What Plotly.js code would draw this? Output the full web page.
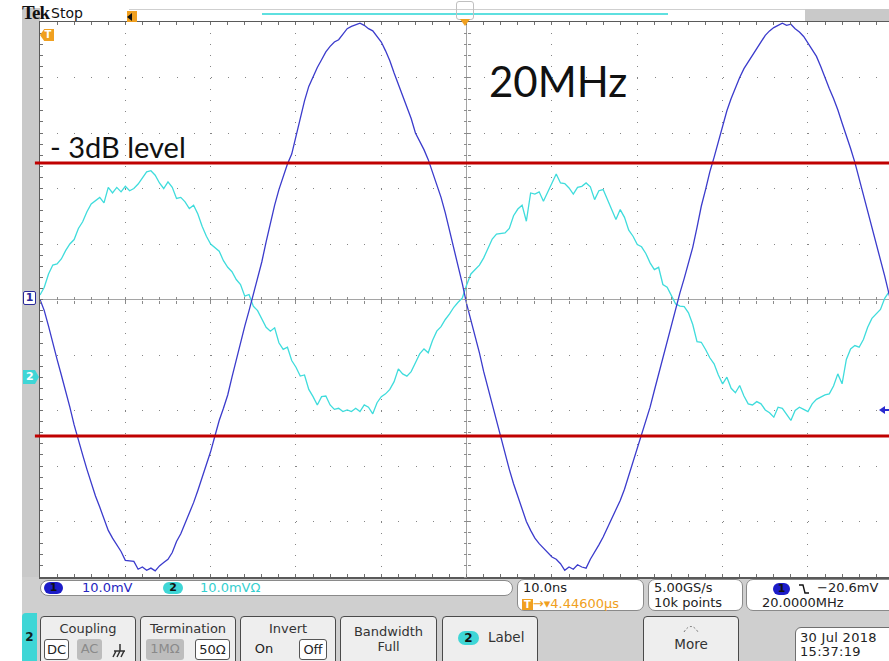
<!DOCTYPE html>
<html>
<head>
<meta charset="utf-8">
<script src="https://cdn.plot.ly/plotly-3.0.1.min.js"></script>
<style>
  html, body { margin: 0; padding: 0; width: 889px; height: 661px; overflow: hidden; background: #fff;
    font-family: "DejaVu Sans", sans-serif; }
  #scope { position: absolute; left: 0; top: 0; width: 889px; height: 661px; z-index: 1; }
  .a { position: absolute; }
  .bg { z-index: 0; }
  .ov { z-index: 2; }
  .box { position: absolute; z-index: 2; background: #fff; border: 1px solid #8a8a8a; box-sizing: border-box;
    border-radius: 7px; font-size: 13px; color: #222; white-space: nowrap; }
  .pill { display: inline-block; border-radius: 7px; text-align: center; font-size: 11px; font-weight: bold;
    line-height: 12px; height: 12px; color: #111; }
  .btn { position: absolute; z-index: 2; top: 616px; height: 52px; border: 1.5px solid #4a4a4a; border-radius: 4px;
    background: #eeeeee; box-sizing: border-box; text-align: center; color: #333; font-size: 13px; }
  .btn .t { position: absolute; left: 0; right: 0; top: 3px; line-height: 17px; }
  .opt { position: absolute; top: 22px; height: 21px; line-height: 20px; font-size: 13px; box-sizing: border-box;
    border-radius: 3px; text-align: center; }
  .sel { background: #fff; border: 1px solid #555; color: #222; }
  .dim { background: #bdbdbd; color: #8a8a8a; }
</style>
</head>
<body>
<!-- instrument frame -->
<div class="a bg" style="left:22px;top:8px;width:18px;height:653px;background:#c9c9c9"></div>
<div class="a bg" style="left:22px;top:577px;width:867px;height:84px;background:#cfcfcf"></div>

<!-- header -->
<div class="a ov" style="left:22px;top:2px;font-family:'Liberation Serif',serif;font-weight:bold;font-size:19px;letter-spacing:-0.9px;color:#111">Tek</div>
<div class="a ov" style="left:51px;top:5px;font-size:14px;color:#111">Stop</div>
<div class="a bg" style="left:129px;top:9px;width:676px;height:13px;background:#fff;border-top:1px solid #cfcfcf;box-sizing:border-box"></div>
<div class="a bg" style="left:805px;top:9px;width:84px;height:13px;background:#c9c9c9"></div>
<div class="a ov" style="left:262px;top:13px;width:406px;height:2px;background:#5ee0e0"></div>
<div class="a ov" style="left:127px;top:11px;width:10px;height:11px;background:#f0a020"></div>
<div class="a ov" style="left:127px;top:13px;width:0;height:0;border-top:4px solid transparent;border-bottom:4px solid transparent;border-right:5px solid #111"></div>
<div class="a ov" style="left:456px;top:1px;width:18px;height:19px;border:1px solid #c0c0c0;border-radius:3px;box-sizing:border-box"></div>
<div class="a ov" style="left:460px;top:19px;width:0;height:0;border-left:5px solid transparent;border-right:5px solid transparent;border-top:7px solid #f0a020"></div>

<!-- trigger and channel markers -->
<div class="a ov" style="left:40px;top:29px;width:14px;height:12px;background:#f0a020;clip-path:polygon(0 50%,30% 0,100% 0,100% 100%,30% 100%);color:#fff;font-size:10px;font-weight:bold;line-height:12px;text-align:center;padding-left:2px;box-sizing:border-box">T</div>
<div class="a ov" style="left:23px;top:291px;width:13px;height:14px;background:#fff;border:1px solid #2a2a9a;border-radius:2px;box-sizing:border-box;color:#2a2a9a;font-size:11px;font-weight:bold;line-height:12px;text-align:center">1</div>
<div class="a ov" style="left:23px;top:370px;width:16px;height:14px;background:#3fd6d6;clip-path:polygon(0 0,75% 0,100% 50%,75% 100%,0 100%);color:#fff;font-size:11px;font-weight:bold;line-height:14px;text-align:left;padding-left:3px;box-sizing:border-box">2</div>
<div class="a ov" style="left:879px;top:406px;width:0;height:0;border-top:4px solid transparent;border-bottom:4px solid transparent;border-right:6px solid #2a2ad0"></div>
<div class="a ov" style="left:884px;top:409px;width:5px;height:2px;background:#2a2ad0"></div>

<!-- readout strip -->
<div class="box" style="left:40px;top:580px;width:473px;height:16px;border-radius:8px">
  <span class="a pill" style="left:3px;top:1px;width:19px;background:#1c1cc8">1</span>
  <span class="a" style="left:41px;top:-1px;color:#2626c0">10.0mV</span>
  <span class="a pill" style="left:122px;top:1px;width:20px;background:#3fd6d6">2</span>
  <span class="a" style="left:159px;top:-1px;color:#36cfcf">10.0mVΩ</span>
</div>
<div class="box" style="left:517px;top:579px;width:127px;height:32px">
  <span class="a" style="left:5px;top:0px">10.0ns</span>
  <span class="a" style="left:4px;top:16px;color:#f0a020"><span style="background:#f0a020;color:#fff;font-size:10px;font-weight:bold;padding:0 2px">T</span>→▾4.44600µs</span>
</div>
<div class="box" style="left:648px;top:579px;width:95px;height:32px">
  <span class="a" style="left:5px;top:0px">5.00GS/s</span>
  <span class="a" style="left:5px;top:15px">10k points</span>
</div>
<div class="box" style="left:746px;top:579px;width:150px;height:32px">
  <span class="a pill" style="left:26px;top:3px;width:17px;background:#1c1cc8">1</span>
  <svg class="a" style="left:52px;top:3px" width="10" height="12"><path d="M0,2 H4 L6,10 H10" fill="none" stroke="#111" stroke-width="1.4"/></svg>
  <span class="a" style="left:70px;top:0px">−20.6mV</span>
  <span class="a" style="left:15px;top:15px">20.0000MHz</span>
</div>

<!-- soft-key menu -->
<div class="a ov" style="left:22px;top:613px;width:15px;height:48px;background:#3fd6d6;border-radius:4px 0 0 0;color:#122;font-weight:bold;font-size:12px;line-height:48px;text-align:center">2</div>
<div class="btn" style="left:40px;width:96px">
  <div class="t">Coupling</div>
  <div class="opt sel" style="left:3px;width:25px">DC</div>
  <div class="opt dim" style="left:36px;width:25px">AC</div>
  <svg class="a" style="left:70px;top:26px" width="16" height="16"><path d="M9,1 V8 M3,8 H14 M5,8 L2,14 M9,8 L6,14 M13,8 L10,14" fill="none" stroke="#333" stroke-width="1.5"/></svg>
</div>
<div class="btn" style="left:140px;width:96px">
  <div class="t">Termination</div>
  <div class="opt dim" style="left:5px;width:38px">1MΩ</div>
  <div class="opt sel" style="left:54px;width:35px">50Ω</div>
</div>
<div class="btn" style="left:240px;width:96px">
  <div class="t">Invert</div>
  <div class="opt" style="left:10px;width:26px;color:#222">On</div>
  <div class="opt sel" style="left:58px;width:28px">Off</div>
</div>
<div class="btn" style="left:340px;width:97px">
  <div class="t" style="top:7px;line-height:15px">Bandwidth<br>Full</div>
</div>
<div class="btn" style="left:442px;width:96px">
  <span class="a pill" style="left:15px;top:14px;width:21px;height:14px;line-height:14px;font-size:12px;background:#3fd6d6">2</span>
  <span class="a" style="left:45px;top:12px;font-size:13.5px">Label</span>
</div>
<div class="btn" style="left:643px;width:96px">
  <svg class="a" style="left:38px;top:6px" width="18" height="10"><path d="M2,9 Q9,-2 16,9" fill="none" stroke="#777" stroke-width="1" stroke-dasharray="2,2"/></svg>
  <span class="a" style="left:0;right:0;top:19px;font-size:13.5px">More</span>
</div>
<div class="box" style="left:795px;top:627px;width:100px;height:40px;border-radius:6px;border-color:#6f6f6f">
  <span class="a" style="left:4px;top:2px;letter-spacing:0.3px">30 Jul  2018</span>
  <span class="a" style="left:4px;top:16px;letter-spacing:0.3px">15:37:19</span>
</div>

<div id="scope"></div>

<script>
// Acquisition timing: samples every 0.5 ns, screen spans -50 ns .. +49.5 ns around the trigger
const SAMPLE_NS = 0.5;
const T_START = -50;
const T_RANGE = [-50, 49.5];
const V_RANGE = [-50, 50];          // 10 mV/div, 10 divisions
const LEVEL_3DB = 24.6;             // mV, marked both above and below zero

// Channel 1 (blue), mV
const ch1 = [
  0.0, -2.0, -4.8, -8.0, -10.8, -13.6, -16.4, -19.4, -22.6, -25.5, -28.0, -30.6, -33.2, -35.4, -37.4, -39.6, -41.6, -43.0, -44.2, -45.4,
  -47.0, -47.1, -47.2, -48.6, -48.2, -48.8, -48.4, -48.9, -48.0, -47.4, -46.8, -45.6, -43.6, -42.2, -40.4, -38.6, -36.6, -34.4, -32.2, -29.8,
  -27.4, -24.6, -21.8, -19.6, -17.2, -14.0, -10.8, -7.8, -4.8, -2.0, 0.8, 3.6, 6.8, 10.4, 13.8, 17.0, 19.8, 22.2, 24.4, 26.2,
  29.6, 33.0, 35.8, 38.4, 40.2, 41.8, 43.2, 44.6, 45.6, 46.4, 46.8, 47.8, 48.8, 49.2, 49.5, 49.8, 49.4, 48.8, 48.4, 47.4,
  46.4, 44.8, 43.0, 40.8, 38.8, 36.8, 34.8, 32.6, 30.0, 28.6, 27.0, 25.2, 23.0, 20.6, 18.4, 15.6, 12.5, 9.2, 6.0, 2.8,
  -0.8, -3.6, -6.6, -9.6, -13.0, -16.0, -18.8, -21.8, -25.0, -27.8, -30.6, -33.2, -35.4, -37.6, -40.0, -41.6, -43.0, -44.0, -44.8, -45.6,
  -46.4, -46.8, -47.6, -48.8, -48.2, -48.6, -47.8, -48.2, -48.4, -46.8, -45.6, -44.2, -42.8, -41.2, -39.6, -38.0, -36.2, -34.2, -31.8, -29.2,
  -26.8, -24.6, -22.0, -19.4, -16.4, -13.4, -10.3, -7.4, -4.4, -1.6, 1.2, 3.8, 6.6, 9.4, 13.0, 16.8, 19.8, 23.0, 25.6, 28.4,
  31.0, 34.0, 36.2, 38.2, 40.0, 41.6, 42.8, 44.0, 45.4, 46.6, 47.6, 48.4, 49.0, 49.4, 49.8, 49.4, 49.6, 48.8, 48.2, 47.4,
  46.2, 45.2, 43.8, 42.0, 39.8, 38.0, 36.2, 34.2, 31.8, 29.6, 27.2, 24.7, 21.8, 19.0, 15.8, 12.8, 10.0, 7.4, 4.2, 1.0,
  -2.0
];

// Channel 2 (cyan), mV
const ch2 = [
  0.8, 2.2, 4.6, 6.2, 6.4, 7.3, 8.8, 10.0, 10.8, 12.8, 14.0, 15.8, 17.2, 17.8, 18.4, 17.4, 20.2, 19.2, 20.2, 19.4,
  20.4, 19.6, 20.0, 20.8, 21.8, 23.0, 23.2, 22.4, 21.0, 20.0, 21.2, 20.2, 18.2, 18.4, 17.6, 16.4, 17.0, 15.4, 13.2, 11.4,
  10.0, 9.3, 8.7, 7.0, 5.8, 5.0, 3.6, 2.7, 0.6, 0.9, -1.2, -2.0, -3.4, -5.0, -5.7, -5.1, -7.8, -9.0, -8.6, -11.0,
  -12.2, -13.8, -13.6, -16.2, -17.5, -19.0, -17.5, -17.4, -19.0, -19.8, -19.6, -20.2, -19.9, -20.2, -19.6, -20.2, -19.0, -19.4, -20.6, -18.6,
  -17.5, -17.0, -16.2, -14.8, -12.5, -13.4, -13.8, -13.0, -11.4, -9.8, -8.9, -9.6, -7.4, -5.7, -4.9, -3.6, -2.6, -1.4, -0.5, 0.3,
  2.6, 4.6, 5.4, 6.2, 7.5, 9.3, 10.9, 11.8, 11.9, 12.0, 12.8, 15.1, 16.3, 17.0, 14.1, 19.2, 19.0, 19.4, 17.7, 19.4,
  21.0, 22.6, 21.0, 20.9, 20.1, 19.0, 20.2, 20.4, 21.0, 20.3, 18.0, 19.6, 19.8, 18.0, 16.4, 14.4, 16.2, 14.8, 12.5, 11.4,
  9.9, 9.5, 8.3, 6.6, 5.4, 5.8, 2.7, 2.2, 0.7, -0.8, -1.2, -1.3, -2.4, -4.5, -7.6, -7.7, -9.0, -10.5, -11.6, -13.6,
  -15.2, -14.0, -16.0, -16.8, -15.5, -17.4, -18.8, -19.0, -18.4, -18.8, -19.9, -20.4, -21.2, -19.4, -19.6, -20.7, -21.8, -20.0, -19.4, -19.8,
  -20.2, -18.8, -18.0, -17.6, -17.2, -17.0, -15.6, -13.4, -15.2, -10.8, -8.9, -8.3, -8.6, -7.2, -5.0, -3.4, -2.6, -1.8, 0.2, 1.4,
  3.0
];

const noHover = { hoverinfo: 'skip', showlegend: false };

const traces = [
  Object.assign({ type: 'scatter', mode: 'lines', name: 'CH2', y: ch2, x0: T_START, dx: SAMPLE_NS,
    line: { color: '#3fdcdc', width: 1.3 } }, noHover),
  Object.assign({ type: 'scatter', mode: 'lines', name: 'CH1', y: ch1, x0: T_START, dx: SAMPLE_NS,
    line: { color: '#3b3bcc', width: 1.3 } }, noHover),
  // carriers for the centre-line tick axes
  Object.assign({ type: 'scatter', x: [], y: [], xaxis: 'x2', yaxis: 'y' }, noHover),
  Object.assign({ type: 'scatter', x: [], y: [], xaxis: 'x3', yaxis: 'y' }, noHover),
  Object.assign({ type: 'scatter', x: [], y: [], xaxis: 'x', yaxis: 'y2' }, noHover),
  Object.assign({ type: 'scatter', x: [], y: [], xaxis: 'x', yaxis: 'y3' }, noHover)
];

const frame = '#5a5a5a';
const tickGrey = '#707070';
const centreX = (0 - T_RANGE[0]) / (T_RANGE[1] - T_RANGE[0]);

function centreTicks(range, dtick, dir, extra) {
  return Object.assign({ range: range, dtick: dtick, tick0: 0, ticks: dir, ticklen: 3, tickwidth: 1,
    tickcolor: '#8c8c8c', showticklabels: false, showgrid: false, zeroline: false, showline: false,
    anchor: 'free', fixedrange: true }, extra);
}

const layout = {
  width: 889, height: 661,
  margin: { l: 40, r: 0, t: 22, b: 84, pad: 0 },
  paper_bgcolor: 'rgba(0,0,0,0)',
  plot_bgcolor: '#ffffff',
  showlegend: false,
  xaxis: {
    range: T_RANGE, dtick: 10, tick0: 0, fixedrange: true,
    showgrid: true, gridcolor: '#858585', gridwidth: 1, griddash: '1px,10.1px',
    zeroline: true, zerolinecolor: '#a5a5a5', zerolinewidth: 1,
    showline: true, linecolor: frame, linewidth: 1.5, mirror: 'ticks',
    ticks: 'inside', ticklen: 3, tickcolor: tickGrey, tickwidth: 1, showticklabels: false,
    minor: { dtick: 2, ticks: 'inside', ticklen: 3, tickcolor: tickGrey, showgrid: false }
  },
  yaxis: {
    range: V_RANGE, dtick: 10, tick0: 0, fixedrange: true,
    showgrid: true, gridcolor: '#858585', gridwidth: 1, griddash: '1px,16.07px',
    zeroline: true, zerolinecolor: '#a5a5a5', zerolinewidth: 1,
    showline: true, linecolor: frame, linewidth: 1.5, mirror: false,
    ticks: 'inside', ticklen: 3, tickcolor: tickGrey, tickwidth: 1, showticklabels: false,
    minor: { dtick: 2, ticks: 'inside', ticklen: 3, tickcolor: tickGrey, showgrid: false }
  },
  xaxis2: centreTicks(T_RANGE, 2, 'outside', { overlaying: 'x', position: 0.5 }),
  xaxis3: centreTicks(T_RANGE, 2, 'inside', { overlaying: 'x', position: 0.5 }),
  yaxis2: centreTicks(V_RANGE, 2, 'outside', { overlaying: 'y', position: centreX, side: 'left' }),
  yaxis3: centreTicks(V_RANGE, 2, 'inside', { overlaying: 'y', position: centreX, side: 'left' }),
  shapes: [LEVEL_3DB, -LEVEL_3DB].map(function (v) {
    return { type: 'line', layer: 'above', xref: 'paper', x0: -0.006, x1: 1, yref: 'y', y0: v, y1: v,
      line: { color: '#c00000', width: 3 } };
  }),
  annotations: [
    { text: '- 3dB level', xref: 'paper', x: 0.0094, xanchor: 'left', yref: 'y', y: LEVEL_3DB,
      yanchor: 'bottom', yshift: -3, showarrow: false,
      font: { family: 'Lato, "Open Sans", sans-serif', size: 29, color: '#111' } },
    { text: '20MHz', xref: 'paper', x: 0.526, xanchor: 'left', yref: 'paper', y: 0.893,
      yanchor: 'middle', showarrow: false,
      font: { family: 'Lato, "Open Sans", sans-serif', size: 42, color: '#111' } }
  ]
};

Plotly.newPlot('scope', traces, layout, { staticPlot: true, displayModeBar: false });
</script>
</body>
</html>
